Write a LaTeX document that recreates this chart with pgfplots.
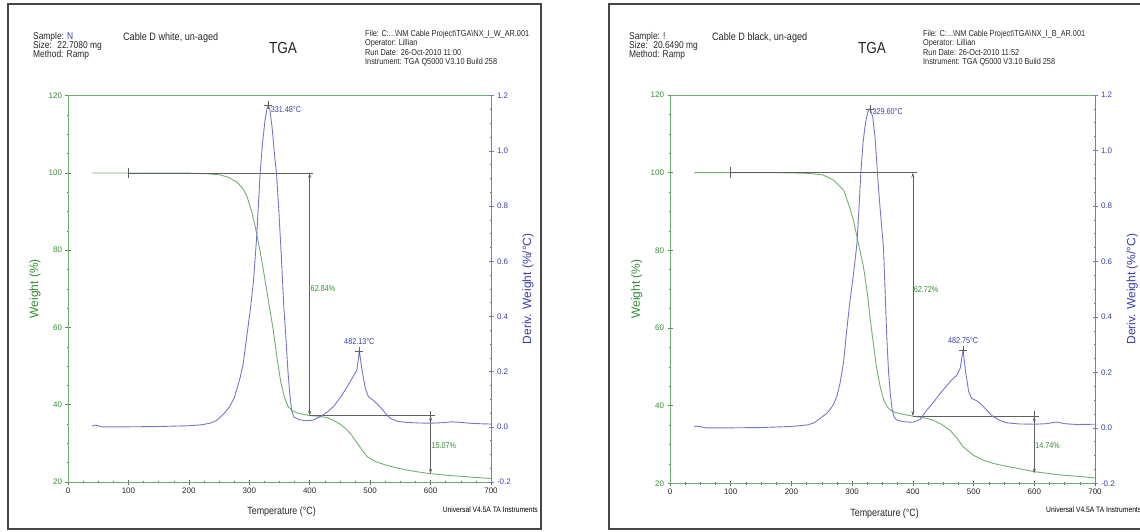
\documentclass[border=0pt]{standalone}
\usepackage{fontspec}
\setmainfont{Liberation Sans}
\usepackage{pgfplots}
\pgfplotsset{compat=1.18}
\usepackage{pgfplotstable}
\usetikzlibrary{arrows.meta}

\definecolor{wgreen}{RGB}{112,175,112}
\definecolor{tgreen}{RGB}{50,140,50}
\definecolor{dblue}{RGB}{118,118,205}
\definecolor{tblue}{RGB}{60,60,175}
\definecolor{anno}{RGB}{95,95,95}
\definecolor{framec}{RGB}{70,70,70}

% ---------- left panel (white) ----------
\pgfplotstableread{
T W
40 100
100 100
150 100
200 99.95
230 99.8
252 99.5
265 98.9
280 97.6
290 95.8
296 94
304 90
310 86
320 78
330 68.5
340 59
346 52
352 46
358 42
364 39.6
370 38.6
379 37.9
390 37.5
400 37.2
417 37.0
430 36.6
440 35.9
450 35.0
462 33.5
470 32.0
478 30.2
487 28.2
495 26.6
510 25.2
528 24.3
545 23.6
561 23.1
580 22.6
600 22.15
630 21.7
660 21.35
700 20.9
}\wL

\pgfplotstableread{
T D
40 0.003
45 0.006
50 0.004
55 0.0
100 0.0
150 0.001
200 0.004
220 0.007
235 0.013
245 0.022
252 0.035
260 0.052
268 0.075
275 0.105
280 0.14
285 0.18
290 0.23
296 0.33
302 0.43
307 0.53
312 0.68
318 0.92
322 1.03
326 1.11
329 1.15
331.5 1.165
334 1.15
338 1.08
342 0.98
345 0.92
349 0.78
353 0.62
357 0.44
361 0.31
364 0.20
367 0.12
370 0.06
374 0.035
384 0.025
395 0.022
405 0.024
418 0.037
430 0.055
440 0.075
452 0.11
462 0.145
470 0.175
478 0.205
482.1 0.275
487 0.20
492 0.14
497 0.11
504 0.098
512 0.082
520 0.063
527 0.045
534 0.03
545 0.02
560 0.016
580 0.014
600 0.013
620 0.015
635 0.018
650 0.016
670 0.012
700 0.01
}\dL

% ---------- right panel (black) ----------
\pgfplotstableread{
T W
40 100
150 100
200 99.95
230 99.8
252 99.4
270 98
286 95.5
296 91
302 87.8
310 82
318.6 75.8
325 69
330 62
335 56
340 50
346 45
352 41.5
358 39.6
363 38.9
370 38.3
380 37.9
390 37.6
400 37.3
415 37.0
433 36.3
447 35.2
461 33.7
472 31.7
483 29.4
492 28.2
500 27.2
515 26.0
533 25.1
550 24.5
571 23.9
600 23.0
640 22.2
670 21.8
700 21.4
}\wR

\pgfplotstableread{
T D
40 0.004
45 0.006
52 0.003
60 0.0
100 0.0
150 0.001
200 0.005
225 0.01
236 0.017
245 0.03
252 0.042
258 0.052
265 0.07
270 0.088
275 0.115
280 0.16
286 0.24
291 0.35
296 0.45
302 0.55
307.7 0.66
311 0.78
314.3 0.92
318 1.03
322 1.10
326 1.14
329.6 1.15
334 1.12
338 1.04
341.6 0.92
345 0.82
348 0.74
351.6 0.65
354.5 0.48
357.2 0.32
360 0.20
363 0.12
366 0.065
369 0.04
373 0.028
385 0.022
400 0.02
412 0.03
423 0.064
435 0.095
445 0.124
455 0.15
465 0.175
472.5 0.19
478 0.215
482.75 0.28
487 0.20
492 0.13
497 0.106
505 0.098
511 0.088
520 0.068
527 0.05
533 0.04
545 0.025
555 0.018
575 0.014
600 0.013
620 0.015
637 0.021
650 0.015
670 0.012
700 0.013
}\dR

\tikzset{
  hdrL/.style={font=\fontsize{9.9}{11}\selectfont, xscale=0.85, inner sep=0pt, text=black!85, anchor=west},
  hdrR/.style={font=\fontsize{8.6}{10}\selectfont, xscale=0.85, inner sep=0pt, text=black!85, anchor=west},
  hdrC/.style={font=\fontsize{10.7}{12}\selectfont, xscale=0.85, inner sep=0pt, text=black!85, anchor=west},
  hdrT/.style={font=\fontsize{16}{18}\selectfont, xscale=0.85, inner sep=0pt, text=black!85},
  lab/.style={font=\fontsize{8.5}{10}\selectfont, xscale=0.85, inner sep=1pt},
  wcurve/.style={wgreen, line width=0.9pt},
  dcurve/.style={dblue, line width=0.9pt},
  annl/.style={anno, line width=0.7pt},
}

\pgfplotsset{
  tgacommon/.style={
    scale only axis, anchor=south west, clip=false,
    xmin=0, xmax=700,
    tick align=center,
    major tick length=5pt, minor tick length=2.5pt,
    ticklabel style={font=\fontsize{8}{9}\selectfont},
    /pgf/number format/assume math mode=true,
  },
  tgaw/.style={
    tgacommon,
    ymin=20, ymax=120,
    xtick={0,100,...,700}, minor x tick num=3,
    ytick={20,40,...,120}, minor y tick num=3,
    xtick pos=left, ytick pos=left,
    axis line style={black!45, line width=0.8pt},
    y axis line style={wgreen, line width=0.8pt},
    xtick style={black!60, line width=0.5pt},
    ytick style={wgreen!80!black, line width=0.5pt},
    xticklabel style={black!85},
    yticklabel style={tgreen},
    ylabel={Weight (\%)},
    ylabel style={at={(axis description cs:-0.078,0.5)}, anchor=center, rotate=0, text=tgreen, font=\fontsize{12}{13}\selectfont},
    xlabel={Temperature (°C)},
    xlabel style={at={(axis description cs:0.505,-0.078)}, anchor=center, text=black!85, font=\fontsize{10.5}{12}\selectfont, xscale=0.85},
  },
  tgad/.style={
    tgacommon,
    ymin=-0.2, ymax=1.2,
    axis x line=none, axis y line*=right,
    ytick={-0.2,0,0.2,0.4,0.6,0.8,1.0,1.2}, minor y tick num=3,
    y axis line style={dblue, line width=0.8pt},
    ytick style={dblue, line width=0.5pt},
    yticklabel style={text=tblue, /pgf/number format/.cd, fixed, fixed zerofill, precision=1},
    ylabel={Deriv. Weight (\%/°C)},
    ylabel style={at={(axis description cs:1.0875,0.5)}, anchor=center, rotate=0, text=tblue, font=\fontsize{12}{13}\selectfont},
  },
}

\begin{document}
\begin{tikzpicture}[x=1pt,y=1pt]
\useasboundingbox (0,0) rectangle (1140,531);
\draw[framec, line width=1.3pt] (8,2) rectangle (541,527);
\draw[framec, line width=1.3pt] (609,2) rectangle (1150,527);

% ---------- header left ----------
\node[hdrL] at (33,494) {Sample: \textcolor{tblue}{N}};
\node[hdrL] at (33,485) {Size:~ 22.7080 mg};
\node[hdrL] at (33,476) {Method: Ramp};
\node[hdrC] at (123,493) {Cable D white, un-aged};
\node[hdrT] at (283,483) {TGA};
\node[hdrR] at (365,497) {File: C:...\textbackslash NM Cable Project\textbackslash TGA\textbackslash NX\_I\_W\_AR.001};
\node[hdrR] at (365,487.5) {Operator: Lillian};
\node[hdrR] at (365,478) {Run Date: 26-Oct-2010 11:00};
\node[hdrR] at (365,468.5) {Instrument: TGA Q5000 V3.10 Build 258};
\node[font=\fontsize{7.9}{9}\selectfont, xscale=0.85, inner sep=0pt, anchor=east] at (538,21) {Universal V4.5A TA Instruments};

% ---------- header right ----------
\node[hdrL] at (629,494) {Sample: !};
\node[hdrL] at (629,485) {Size:~ 20.6490 mg};
\node[hdrL] at (629,476) {Method: Ramp};
\node[hdrC] at (712,493) {Cable D black, un-aged};
\node[hdrT] at (872,483) {TGA};
\node[hdrR] at (923,497) {File: C:...\textbackslash NM Cable Project\textbackslash TGA\textbackslash NX\_I\_B\_AR.001};
\node[hdrR] at (923,487.5) {Operator: Lillian};
\node[hdrR] at (923,478) {Run Date: 26-Oct-2010 11:52};
\node[hdrR] at (923,468.5) {Instrument: TGA Q5000 V3.10 Build 258};
\node[font=\fontsize{7.9}{9}\selectfont, xscale=0.85, inner sep=0pt, anchor=west] at (1046,21) {Universal V4.5A TA Instruments};

% ================= LEFT PANEL =================
\begin{axis}[tgaw, at={(68pt,49pt)}, width=423pt, height=386.3pt]
  \addplot[wcurve] table[x=T, y=W] {\wL};
  \addplot[annl] coordinates {(100,100) (405,100)};
  \addplot[annl] coordinates {(100,98.6) (100,101.4)};
  \addplot[annl, {Stealth[length=5pt,width=3pt]}-{Stealth[length=5pt,width=3pt]}] coordinates {(400,100) (400,37.16)};
  \addplot[annl] coordinates {(400,37.16) (608,37.16)};
  \addplot[annl] coordinates {(600,35.9) (600,38.4)};
  \addplot[annl, {Stealth[length=5pt,width=3pt]}-{Stealth[length=5pt,width=3pt]}] coordinates {(600,37.16) (600,22.13)};
  \node[lab, text=tgreen, anchor=west] at (axis cs:400,70) {62.84\%};
  \node[lab, text=tgreen, anchor=west] at (axis cs:600,29.4) {15.07\%};
\end{axis}
\begin{axis}[tgad, at={(68pt,49pt)}, width=423pt, height=386.3pt]
  \addplot[dcurve] table[x=T, y=D] {\dL};
  \addplot[only marks, mark=+, mark size=4pt, anno, line width=0.7pt] coordinates {(331.48,1.165) (482.13,0.275)};
  \node[lab, text=tblue, anchor=west] at (axis cs:334,1.15) {331.48°C};
  \node[lab, text=tblue, anchor=south] at (axis cs:482.13,0.295) {482.13°C};
\end{axis}

% ================= RIGHT PANEL =================
\begin{axis}[tgaw, at={(670pt,47.7pt)}, width=425pt, height=388.3pt]
  \addplot[wcurve] table[x=T, y=W] {\wR};
  \addplot[annl] coordinates {(99,100) (407,100)};
  \addplot[annl] coordinates {(99,98.6) (99,101.4)};
  \addplot[annl, {Stealth[length=5pt,width=3pt]}-{Stealth[length=5pt,width=3pt]}] coordinates {(400,100) (400,37.28)};
  \addplot[annl] coordinates {(400,37.28) (607,37.28)};
  \addplot[annl] coordinates {(600,36.0) (600,38.5)};
  \addplot[annl, {Stealth[length=5pt,width=3pt]}-{Stealth[length=5pt,width=3pt]}] coordinates {(600,37.28) (600,22.54)};
  \node[lab, text=tgreen, anchor=west] at (axis cs:400,69.8) {62.72\%};
  \node[lab, text=tgreen, anchor=west] at (axis cs:600,29.7) {14.74\%};
\end{axis}
\begin{axis}[tgad, at={(670pt,47.7pt)}, width=425pt, height=388.3pt]
  \addplot[dcurve] table[x=T, y=D] {\dR};
  \addplot[only marks, mark=+, mark size=4pt, anno, line width=0.7pt] coordinates {(329.60,1.15) (482.75,0.28)};
  \node[lab, text=tblue, anchor=west] at (axis cs:332,1.14) {329.60°C};
  \node[lab, text=tblue, anchor=south] at (axis cs:482.75,0.30) {482.75°C};
\end{axis}
\end{tikzpicture}
\end{document}
